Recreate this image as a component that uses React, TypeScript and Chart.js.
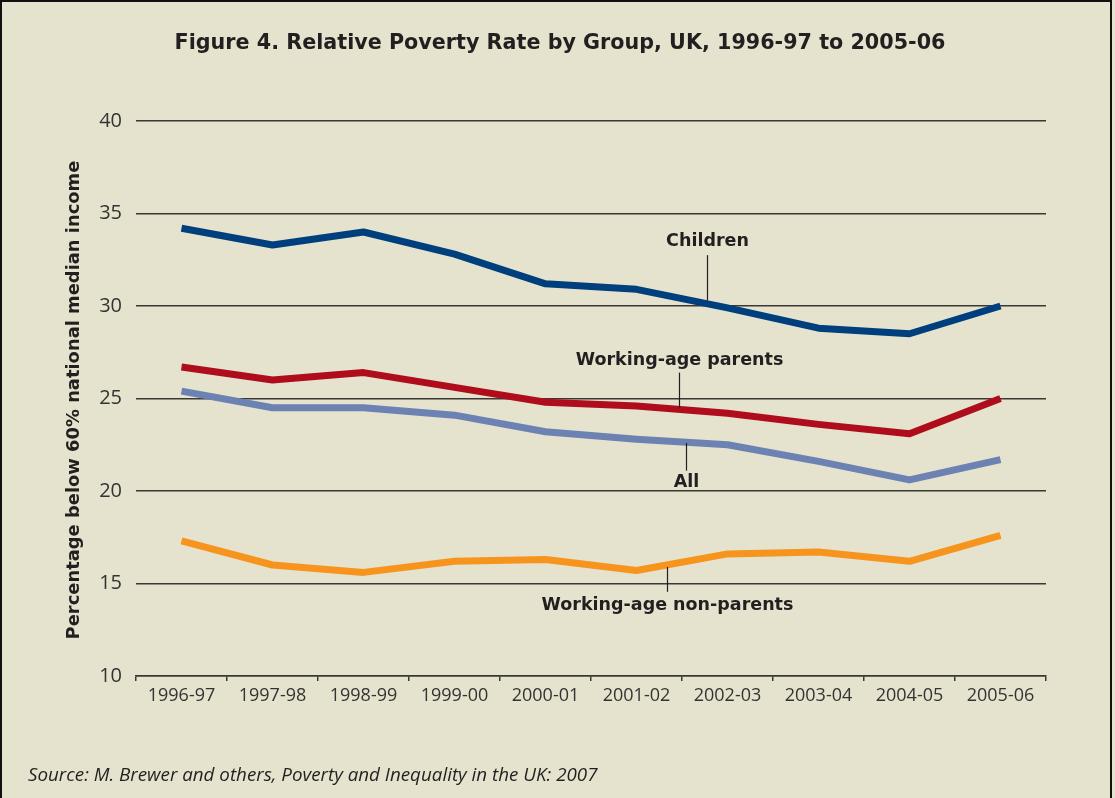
import React, { useEffect, useRef } from "react";
import { Chart, registerables } from "chart.js";

Chart.register(...registerables);

const categories = ["1996-97", "1997-98", "1998-99", "1999-00", "2000-01", "2001-02", "2002-03", "2003-04", "2004-05", "2005-06"];
const children = [34.2, 33.3, 34.0, 32.8, 31.2, 30.9, 29.9, 28.8, 28.5, 30.0];
const workingAgeParents = [26.7, 26.0, 26.4, 25.6, 24.8, 24.6, 24.2, 23.6, 23.1, 25.0];
const allGroups = [25.4, 24.5, 24.5, 24.1, 23.2, 22.8, 22.5, 21.6, 20.6, 21.7];
const nonParents = [17.3, 16.0, 15.6, 16.2, 16.3, 15.7, 16.6, 16.7, 16.2, 17.6];
const yTicks = [10, 15, 20, 25, 30, 35, 40];

const titleText = "Figure 4. Relative Poverty Rate by Group, UK, 1996-97 to 2005-06";
const yAxisTitle = "Percentage below 60% national median income";
const sourceText = "Source: M. Brewer and others, Poverty and Inequality in the UK: 2007";

// label text, category position (fractional index), leader from/to value, text value
const annotations = [
  { text: "Children", idx: 5.78, from: 30.3, to: 32.75, textAt: 33.5 },
  { text: "Working-age parents", idx: 5.47, from: 24.5, to: 26.4, textAt: 27.05 },
  { text: "All", idx: 5.54, from: 22.6, to: 21.1, textAt: 20.45 },
  { text: "Working-age non-parents", idx: 5.33, from: 15.9, to: 14.55, textAt: 13.8 },
];

const BG = "#e5e3cd";
const INK = "#231f20";
const GRID = "#3a3835";

export default function App() {
  const ref = useRef<HTMLCanvasElement | null>(null);

  useEffect(() => {
    document.body.style.margin = "0";
    const canvas = ref.current;
    if (!canvas) return;

    const decor = {
      id: "decor",
      beforeDraw(chart: any) {
        const ctx = chart.ctx;
        ctx.save();
        ctx.fillStyle = BG;
        ctx.fillRect(0, 0, chart.width, chart.height);
        ctx.restore();
      },
      afterDraw(chart: any) {
        const ctx = chart.ctx;
        const xs = chart.scales.x;
        const ys = chart.scales.y;
        ctx.save();
        // frame
        ctx.strokeStyle = "#111";
        ctx.lineWidth = 2;
        ctx.beginPath();
        ctx.moveTo(1, chart.height);
        ctx.lineTo(1, 1);
        ctx.lineTo(1111, 1);
        ctx.lineTo(1111, chart.height);
        ctx.stroke();

        // title
        ctx.fillStyle = INK;
        ctx.font = "bold 20.7px 'DejaVu Sans'";
        ctx.textAlign = "center";
        ctx.textBaseline = "middle";
        ctx.fillText(titleText, 560, 44);

        // y axis title
        ctx.save();
        ctx.translate(74, 400);
        ctx.rotate(-Math.PI / 2);
        ctx.font = "bold 17.9px 'DejaVu Sans'";
        ctx.fillText(yAxisTitle, 0, 0);
        ctx.restore();

        // source
        ctx.font = "italic 18.8px 'Open Sans'";
        ctx.textAlign = "left";
        ctx.fillText(sourceText, 28, 776);

        // annotations
        const step = xs.getPixelForValue(1) - xs.getPixelForValue(0);
        ctx.font = "bold 17.5px 'DejaVu Sans'";
        ctx.textAlign = "center";
        for (const a of annotations) {
          const px = Math.round(xs.getPixelForValue(0) + a.idx * step) + 0.5;
          ctx.strokeStyle = INK;
          ctx.lineWidth = 1.2;
          ctx.beginPath();
          ctx.moveTo(px, ys.getPixelForValue(a.from));
          ctx.lineTo(px, ys.getPixelForValue(a.to));
          ctx.stroke();
          ctx.fillText(a.text, px, ys.getPixelForValue(a.textAt));
        }
        ctx.restore();
      },
    };

    const mk = (label: string, data: number[], color: string) => ({
      label,
      data,
      borderColor: color,
      backgroundColor: color,
      borderWidth: 7,
      pointRadius: 0,
      tension: 0,
      borderCapStyle: "butt" as const,
      borderJoinStyle: "round" as const,
      fill: false,
    });

    const chart = new Chart(canvas, {
      type: "line",
      data: {
        labels: categories,
        datasets: [
          mk("Children", children, "#003f7d"),
          mk("Working-age parents", workingAgeParents, "#b00d1c"),
          mk("All", allGroups, "#6b82b3"),
          mk("Working-age non-parents", nonParents, "#f7941e"),
        ],
      },
      options: {
        responsive: false,
        animation: false,
        devicePixelRatio: 1,
        layout: { padding: { left: 0, top: 121, right: 69, bottom: 82 } },
        plugins: { legend: { display: false }, tooltip: { enabled: false }, title: { display: false } },
        scales: {
          x: {
            type: "category",
            offset: true,
            afterFit: (s: any) => { s.height = 40; },
            grid: { offset: true, drawOnChartArea: false, drawTicks: true, tickLength: 5, color: GRID, lineWidth: 1.5 },
            border: { display: true, color: GRID, width: 1.5 },
            ticks: { color: "#333", font: { family: "'Open Sans'", size: 18 }, padding: 4, maxRotation: 0, autoSkip: false },
          },
          y: {
            min: 10,
            max: 40,
            afterFit: (s: any) => { s.width = 136; },
            afterBuildTicks: (s: any) => { s.ticks = yTicks.map((v) => ({ value: v })); },
            grid: { drawTicks: false, color: GRID, lineWidth: 1.5 },
            border: { display: false },
            ticks: { color: "#333", font: { family: "'Open Sans'", size: 20 }, padding: 14 },
          },
        },
      },
      plugins: [decor],
    });
    return () => chart.destroy();
  }, []);

  return <canvas ref={ref} width={1115} height={798} style={{ display: "block" }} />;
}
